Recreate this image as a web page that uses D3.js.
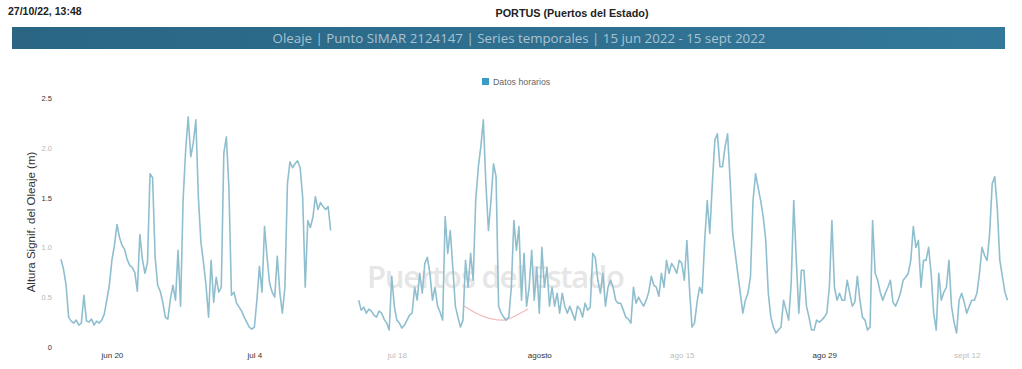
<!DOCTYPE html>
<html><head><meta charset="utf-8">
<script src="https://cdn.jsdelivr.net/npm/d3@7"></script>
<style>html,body{margin:0;padding:0;background:#fff;} svg{display:block;}</style>
</head><body>
<svg id="chart" width="1022" height="369"></svg>
<script>
// Header texts
const printedAt = "27/10/22, 13:48";
const siteName = "PORTUS (Puertos del Estado)";
const bannerText = "Oleaje | Punto SIMAR 2124147 | Series temporales | 15 jun 2022 - 15 sept 2022";
const seriesName = "Datos horarios";
const yTitle = "Altura Signif. del Oleaje (m)";
const watermarkText = "Puertos del Estado";

// Axis ticks
const yTicks = [0, 0.5, 1, 1.5, 2, 2.5];
const yTickLabels = ["0", "0.5", "1.0", "1.5", "2.0", "2.5"];
const xTickDates = ["2022-06-20", "2022-07-04", "2022-07-18", "2022-08-01", "2022-08-15", "2022-08-29", "2022-09-12"];
const xTickLabels = ["jun 20", "jul 4", "jul 18", "agosto", "ago 15", "ago 29", "sept 12"];

// Significant wave height (m), one value every 6 hours from 15 Jun 2022 00:00 UTC; null = no data
const seriesStart = "2022-06-15T00:00:00Z";
const stepHours = 6;
const waveHeight = [
  0.88, 0.78, 0.62, 0.30,  0.26, 0.24, 0.27, 0.22,  0.24, 0.52, 0.26, 0.25,  0.28, 0.22, 0.26, 0.24,
  0.27, 0.33, 0.47, 0.62,  0.87, 1.02, 1.23, 1.10,  1.02, 0.98, 0.88, 0.82,  0.80, 0.75, 0.56, 1.13,
  0.88, 0.74, 0.85, 1.74,  1.70, 0.90, 0.62, 0.56,  0.45, 0.30, 0.28, 0.48,  0.62, 0.47, 0.97, 0.41,
  1.48, 1.98, 2.31, 1.91,  2.05, 2.28, 1.50, 1.05,  0.85, 0.62, 0.30, 0.87,  0.45, 0.70, 0.55, 0.60,
  1.95, 2.11, 1.60, 0.52,  0.55, 0.44, 0.40, 0.36,  0.30, 0.25, 0.20, 0.18,  0.20, 0.47, 0.81, 0.55,
  1.21, 0.90, 0.64, 0.55,  0.50, 0.91, 0.55, 0.34,  0.60, 1.64, 1.86, 1.80,  1.84, 1.87, 1.80, 1.50,
  0.60, 1.27, 1.20, 1.30,  1.51, 1.38, 1.45, 1.41,  1.38, 1.41, 1.17, null,  null, null, null, null,
  null, null, null, null,  null, 0.47, 0.37, 0.40,  0.34, 0.38, 0.36, 0.32,  0.30, 0.36, 0.34, 0.28,
  0.24, 0.17, 0.71, 0.41,  0.27, 0.24, 0.19, 0.22,  0.27, 0.32, 0.34, 0.60,  0.47, 0.74, 0.54, 0.84,
  0.90, 0.74, 0.47, 0.60,  0.41, 0.35, 0.27, 1.31,  0.94, 1.17, 0.80, 0.41,  0.30, 0.20, 0.27, 0.87,
  0.60, 0.94, 0.67, 1.47,  1.80, 2.01, 2.28, 1.64,  1.17, 1.47, 1.84, 1.71,  0.41, 0.34, 0.30, 0.27,
  0.30, 0.60, 1.27, 0.97,  1.21, 0.47, 0.94, 0.41,  0.60, 0.97, 0.47, 0.80,  0.34, 1.00, 0.60, 0.80,
  0.41, 0.60, 0.41, 0.54,  0.34, 0.54, 0.41, 0.34,  0.41, 0.34, 0.27, 0.41,  0.38, 0.30, 0.44, 0.37,
  0.40, 0.94, 0.90, 0.67,  0.54, 0.74, 0.41, 0.60,  0.67, 0.60, 0.47, 0.44,  0.44, 0.37, 0.30, 0.28,
  0.24, 0.60, 0.44, 0.50,  0.45, 0.41, 0.47, 0.55,  0.71, 0.62, 0.60, 0.51,  0.74, 0.60, 0.87, 0.74,
  0.84, 0.80, 0.74, 0.87,  0.84, 0.67, 1.07, 0.60,  0.20, 0.24, 0.45, 0.60,  0.54, 1.07, 1.47, 1.14,
  1.64, 2.08, 2.14, 1.81,  1.81, 2.01, 2.14, 1.67,  1.14, 0.94, 0.74, 0.54,  0.34, 0.47, 0.54, 0.71,
  1.47, 1.74, 1.60, 1.47,  1.31, 1.07, 0.54, 0.30,  0.20, 0.14, 0.17, 0.20,  0.47, 0.37, 0.27, 0.64,
  1.47, 0.87, 0.34, 0.77,  0.77, 0.41, 0.30, 0.17,  0.17, 0.27, 0.25, 0.27,  0.30, 0.34, 0.60, 1.27,
  0.60, 0.47, 0.54, 0.47,  0.47, 0.67, 0.54, 0.41,  0.45, 0.71, 0.47, 0.30,  0.27, 0.17, 0.20, 1.27,
  0.74, 0.67, 0.55, 0.47,  0.54, 0.60, 0.67, 0.45,  0.41, 0.47, 0.55, 0.67,  0.70, 0.74, 0.87, 1.21,
  1.00, 1.07, 0.60, 0.87,  0.87, 1.00, 0.74, 0.34,  0.17, 0.74, 0.47, 0.55,  0.60, 0.87, 0.41, 0.25,
  0.14, 0.47, 0.54, 0.45,  0.34, 0.41, 0.47, 0.47,  0.54, 0.74, 1.00, 0.92,  0.87, 1.14, 1.64, 1.71,
  1.40, 0.87, 0.71, 0.55,  0.47
];

const svg = d3.select("#chart");
const font = "'Liberation Sans', Arial, sans-serif";

// Page header
svg.append("text").attr("x", 8).attr("y", 15)
  .attr("font-family", font).attr("font-size", 10.5).attr("font-weight", "bold").attr("fill", "#222")
  .text(printedAt);
svg.append("text").attr("x", 572).attr("y", 17).attr("text-anchor", "middle")
  .attr("font-family", font).attr("font-size", 10.8).attr("font-weight", "bold").attr("fill", "#222")
  .text(siteName);

// Banner
const bannerGrad = svg.append("defs").append("linearGradient").attr("id", "banner").attr("x1", 0).attr("x2", 1);
bannerGrad.append("stop").attr("offset", 0).attr("stop-color", "#2a6584");
bannerGrad.append("stop").attr("offset", 1).attr("stop-color", "#33789a");
svg.append("rect").attr("x", 12).attr("y", 27).attr("width", 993).attr("height", 22)
  .attr("fill", "url(#banner)");
svg.append("text").attr("x", 519).attr("y", 43).attr("text-anchor", "middle")
  .attr("font-family", "'Open Sans', sans-serif").attr("font-size", 13.3).attr("fill", "#aac3d1")
  .text(bannerText);

// Scales
const parseDay = d3.utcParse("%Y-%m-%d");
const t0 = new Date(seriesStart);
const x = d3.scaleUtc()
  .domain([t0, d3.utcHour.offset(t0, 93 * 24 + 6)])
  .range([61, 1010]);
const y = d3.scaleLinear().domain([0, 2.5]).range([347, 98]);

const points = waveHeight.map((v, i) => ({ t: d3.utcHour.offset(t0, i * stepHours), v }));

// Watermark
svg.append("text").attr("x", 496).attr("y", 288).attr("text-anchor", "middle")
  .attr("font-family", "'Open Sans', sans-serif").attr("font-size", 31).attr("font-weight", 600)
  .attr("textLength", 258).attr("fill", "#e6e6e6")
  .text(watermarkText);
svg.append("path")
  .attr("d", "M464,306 C476,314 490,321 504,320 C512,319 520,313 528,309")
  .attr("fill", "none").attr("stroke", "#f1bcbc").attr("stroke-width", 1.3);

// Axes
const faintY = new Set([0.5, 1, 2]);
const yAxis = svg.append("g").attr("transform", "translate(52,0)")
  .call(d3.axisLeft(y).tickValues(yTicks).tickSize(0).tickPadding(0)
    .tickFormat((d, i) => yTickLabels[i]));
yAxis.select(".domain").remove();
yAxis.selectAll("text").attr("font-family", font).attr("font-size", 7.5)
  .attr("fill", d => faintY.has(d) ? "#b8b8b8" : "#333");

const faintX = new Set(["jul 18", "ago 15", "sept 12"]);
const xAxis = svg.append("g").attr("transform", "translate(0,352)")
  .call(d3.axisBottom(x).tickValues(xTickDates.map(parseDay)).tickSize(0).tickPadding(0)
    .tickFormat((d, i) => xTickLabels[i]));
xAxis.select(".domain").remove();
xAxis.selectAll("text").attr("font-family", font).attr("font-size", 8)
  .attr("fill", (d, i) => faintX.has(xTickLabels[i]) ? "#bdbdbd" : "#333");

svg.append("text")
  .attr("transform", "translate(35,222) rotate(-90)")
  .attr("text-anchor", "middle")
  .attr("font-family", font).attr("font-size", 11.5).attr("fill", "#333")
  .text(yTitle);

// Legend
svg.append("rect").attr("x", 482).attr("y", 78).attr("width", 7).attr("height", 7).attr("fill", "#3a9cc6");
svg.append("text").attr("x", 493).attr("y", 85)
  .attr("font-family", font).attr("font-size", 8.8).attr("fill", "#666")
  .text(seriesName);

// Series line
const line = d3.line()
  .defined(d => d.v != null)
  .x(d => x(d.t))
  .y(d => y(d.v));
svg.append("path").datum(points)
  .attr("d", line)
  .attr("fill", "none")
  .attr("stroke", "#8fbfcf")
  .attr("stroke-width", 1.6)
  .attr("stroke-linejoin", "round");
</script>
</body></html>
